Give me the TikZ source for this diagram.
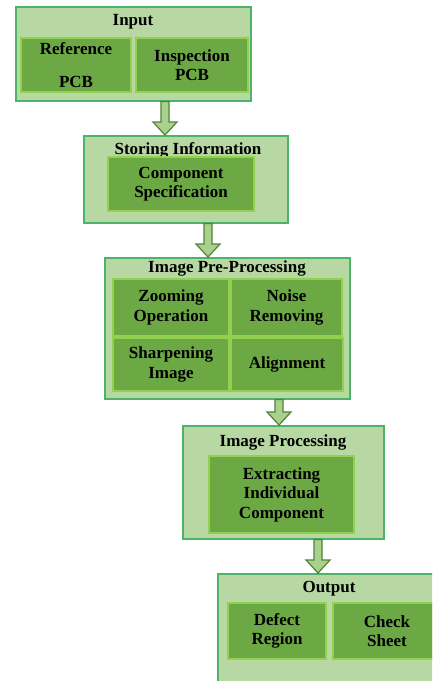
\documentclass[tikz,border=0pt]{standalone}
\usepackage{fontspec}
\setmainfont{Liberation Serif}
\usetikzlibrary{calc}
\definecolor{outerfill}{HTML}{B7D8A3}
\definecolor{outerline}{HTML}{4DB36A}
\definecolor{innerfill}{HTML}{6CA945}
\definecolor{innerline}{HTML}{92D050}
\definecolor{arrowfill}{HTML}{A9D18E}
\definecolor{arrowline}{HTML}{548235}
\tikzset{
 outerbox/.style={draw=outerline, fill=outerfill, line width=1.5pt, anchor=north west, inner sep=0pt},
 innerbox/.style={draw=innerline, fill=innerfill, line width=2pt, anchor=north west, inner sep=0pt, align=center, font=\fontsize{17}{19.5}\selectfont\bfseries},
 titletext/.style={font=\fontsize{17}{19.5}\selectfont\bfseries, inner sep=0pt},
 blockarrow/.style={draw=arrowline, fill=arrowfill, line width=1.2pt, line join=miter}
}
\newcommand{\blockarr}[3]{%
  \draw[blockarrow] let \p1=(#1.south), \p2=(#2.north) in
    ({#3pt-4pt},\y1) -- ({#3pt+4pt},\y1) -- ({#3pt+4pt},\y2+13pt) -- ({#3pt+12pt},\y2+13pt)
    -- ({#3pt},\y2) -- ({#3pt-12pt},\y2+13pt) -- ({#3pt-4pt},\y2+13pt) -- cycle;}
\begin{document}
\begin{tikzpicture}[x=1pt,y=-1pt]
\path[use as bounding box, clip] (0,0) rectangle (432,681);
\fill[white] (0,0) rectangle (432,681);

% Input
\node[outerbox, minimum width=235pt, minimum height=94pt] (input) at (15,6) {};
\node[titletext] (inputT) at (133,22) {Input};
\node[innerbox, minimum width=110pt, minimum height=54pt] (ref) at (20,37) {Reference\\[13pt]PCB};
\node[innerbox, minimum width=112pt, minimum height=54pt] (insp) at (135,37) {Inspection\\PCB};

% Storing information
\node[outerbox, minimum width=204pt, minimum height=87pt] (store) at (83,135) {};
\node[titletext] (storeT) at (188,150) {Storing Information};
\node[innerbox, minimum width=146pt, minimum height=54pt] (comp) at (107,156) {Component\\Specification};

% Image pre-processing
\node[outerbox, minimum width=245pt, minimum height=141pt] (pre) at (104,257) {};
\node[titletext] (preT) at (227,268) {Image Pre-Processing};
\node[innerbox, minimum width=116pt, minimum height=57pt] (zoomop) at (112,278) {Zooming\\Operation};
\node[innerbox, minimum width=111pt, minimum height=57pt] (noise) at (230,278) {Noise\\Removing};
\node[innerbox, minimum width=116pt, minimum height=53pt] (sharp) at (112,337) {Sharpening\\Image};
\node[innerbox, minimum width=112pt, minimum height=53pt] (align) at (230,337) {Alignment};

% Image processing
\node[outerbox, minimum width=201pt, minimum height=113pt] (proc) at (182,425) {};
\node[titletext] (procT) at (283,442) {Image Processing};
\node[innerbox, minimum width=145pt, minimum height=77pt] (extract) at (208,455) {Extracting\\Individual\\Component};

% Output
\node[outerbox, minimum width=240pt, minimum height=140pt] (out) at (217,573) {};
\node[titletext] (outT) at (329,589) {Output};
\node[innerbox, minimum width=98pt, minimum height=56pt] (defect) at (227,602) {Defect\\Region};
\node[innerbox, minimum width=108pt, minimum height=56pt] (check) at (332,602) {Check\\Sheet};

% Arrows
\blockarr{input}{store}{165}
\blockarr{store}{pre}{208}
\blockarr{pre}{proc}{279}
\blockarr{proc}{out}{318}
\end{tikzpicture}
\end{document}
